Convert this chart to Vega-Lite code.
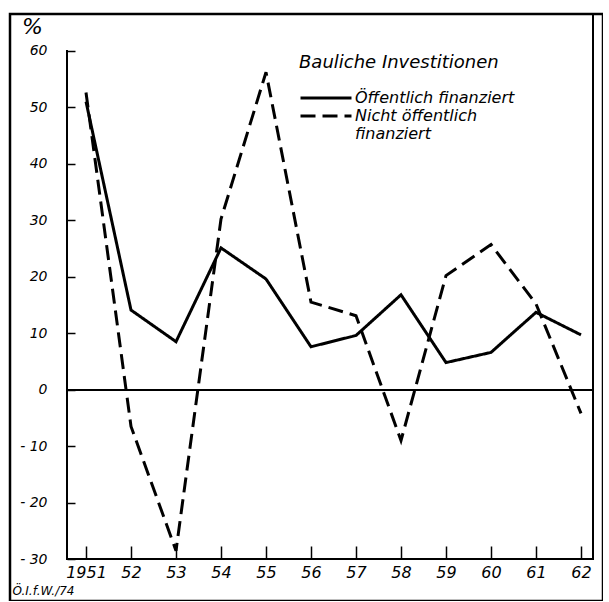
{
  "$schema": "https://vega.github.io/schema/vega-lite/v6.json",
  "width": 593,
  "height": 587,
  "autosize": {"type": "none"},
  "padding": {"left": 10, "top": 14, "right": 0, "bottom": 0},
  "background": "white",
  "config": {
    "view": {"stroke": "black", "strokeWidth": 2.5},
    "font": "DejaVu Sans",
    "axis": {"labelFont": "DejaVu Sans", "titleFont": "DejaVu Sans", "labelFontStyle": "italic", "titleFontStyle": "italic", "labelColor": "black", "titleColor": "black", "tickColor": "black", "grid": false, "domain": false},
    "legend": {"labelFont": "DejaVu Sans", "titleFont": "DejaVu Sans", "labelFontStyle": "italic", "titleFontStyle": "italic"},
    "style": {"guide-label": {"lineHeight": 18}}
  },
  "data": {"values": [
    {"year": 1951, "series": "Öffentlich finanziert", "value": 51},
    {"year": 1952, "series": "Öffentlich finanziert", "value": 14.1},
    {"year": 1953, "series": "Öffentlich finanziert", "value": 8.5},
    {"year": 1954, "series": "Öffentlich finanziert", "value": 25.1},
    {"year": 1955, "series": "Öffentlich finanziert", "value": 19.6},
    {"year": 1956, "series": "Öffentlich finanziert", "value": 7.6},
    {"year": 1957, "series": "Öffentlich finanziert", "value": 9.6},
    {"year": 1958, "series": "Öffentlich finanziert", "value": 16.8},
    {"year": 1959, "series": "Öffentlich finanziert", "value": 4.8},
    {"year": 1960, "series": "Öffentlich finanziert", "value": 6.6},
    {"year": 1961, "series": "Öffentlich finanziert", "value": 13.7},
    {"year": 1962, "series": "Öffentlich finanziert", "value": 9.7},
    {"year": 1951, "series": "Nicht öffentlich finanziert", "value": 52.6},
    {"year": 1952, "series": "Nicht öffentlich finanziert", "value": -6.5},
    {"year": 1953, "series": "Nicht öffentlich finanziert", "value": -28.5},
    {"year": 1954, "series": "Nicht öffentlich finanziert", "value": 30.2},
    {"year": 1955, "series": "Nicht öffentlich finanziert", "value": 56.2},
    {"year": 1956, "series": "Nicht öffentlich finanziert", "value": 15.5},
    {"year": 1957, "series": "Nicht öffentlich finanziert", "value": 13.1},
    {"year": 1958, "series": "Nicht öffentlich finanziert", "value": -9},
    {"year": 1959, "series": "Nicht öffentlich finanziert", "value": 20.2},
    {"year": 1960, "series": "Nicht öffentlich finanziert", "value": 25.7},
    {"year": 1961, "series": "Nicht öffentlich finanziert", "value": 15.2},
    {"year": 1962, "series": "Nicht öffentlich finanziert", "value": -4.2}
  ]},
  "layer": [
    {
      "mark": {"type": "rule", "color": "black", "strokeWidth": 1.5},
      "encoding": {
        "x": {"datum": 1950.578, "type": "quantitative"},
        "y": {"datum": -30, "type": "quantitative"},
        "y2": {"datum": 60}
      }
    },
    {
      "mark": {"type": "rule", "color": "black", "strokeWidth": 1.5},
      "encoding": {
        "x": {"datum": 1950.578, "type": "quantitative"},
        "x2": {"datum": 1962.267},
        "y": {"datum": -30, "type": "quantitative"}
      }
    },
    {
      "mark": {"type": "rule", "color": "black", "strokeWidth": 1.5},
      "encoding": {
        "x": {"datum": 1950.578, "type": "quantitative"},
        "x2": {"datum": 1962.267},
        "y": {"datum": 0, "type": "quantitative"}
      }
    },
    {
      "mark": {"type": "rule", "color": "black", "strokeWidth": 1.5},
      "encoding": {
        "x": {"datum": 1962.267, "type": "quantitative"},
        "y": {"datum": -30, "type": "quantitative"},
        "y2": {"datum": 66.5}
      }
    },
    {
      "mark": {"type": "line", "color": "black", "strokeWidth": 3, "strokeJoin": "miter", "strokeCap": "butt"},
      "encoding": {
        "x": {
          "field": "year", "type": "quantitative",
          "scale": {"domain": [1949.311, 1962.489], "nice": false, "zero": false},
          "axis": {
            "orient": "bottom", "offset": -42,
            "values": [1951, 1952, 1953, 1954, 1955, 1956, 1957, 1958, 1959, 1960, 1961, 1962],
            "labelExpr": "datum.value == 1951 ? '1951' : '' + (datum.value - 1900)",
            "tickSize": -13, "tickWidth": 1.5, "labelPadding": 18, "labelFontSize": 16,
            "title": "Ö.I.f.W./74", "titleFontSize": 12, "titleFontWeight": "normal",
            "titleAnchor": "start", "titleAlign": "left", "titleX": 2, "titleY": 31, "titleBaseline": "middle"
          }
        },
        "y": {
          "field": "value", "type": "quantitative",
          "scale": {"domain": [-37.4, 66.5], "nice": false, "zero": false},
          "axis": {
            "orient": "left", "offset": -57,
            "values": [-30, -20, -10, 0, 10, 20, 30, 40, 50, 60],
            "labelExpr": "datum.value < 0 ? '- ' + abs(datum.value) : '' + datum.value",
            "tickSize": -8, "tickWidth": 1.5, "labelPadding": 28, "labelFontSize": 14,
            "title": "%", "titleAngle": 0, "titleFontSize": 22, "titleFontWeight": "normal",
            "titleX": -35, "titleY": 12, "titleAlign": "center", "titleBaseline": "middle"
          }
        },
        "strokeDash": {
          "field": "series", "type": "nominal",
          "scale": {"domain": ["Öffentlich finanziert", "Nicht öffentlich finanziert"], "range": [[1, 0], [15, 7]]},
          "legend": {
            "orient": "none", "legendX": 289, "legendY": 40,
            "title": "Bauliche Investitionen", "titleFontSize": 18, "titleFontWeight": "normal", "titleColor": "black", "titlePadding": 19, "titleLimit": 400,
            "labelFontSize": 16, "labelColor": "black", "labelOffset": 2, "labelLimit": 400,
            "labelExpr": "datum.label == 'Nicht öffentlich finanziert' ? ['Nicht öffentlich', 'finanziert'] : datum.label",
            "symbolType": "stroke", "symbolSize": 2600, "symbolStrokeWidth": 3, "symbolStrokeColor": "black",
            "clipHeight": 14, "rowPadding": 2, "labelBaseline": "middle"
          }
        },
        "detail": {"field": "series"}
      }
    }
  ]
}
